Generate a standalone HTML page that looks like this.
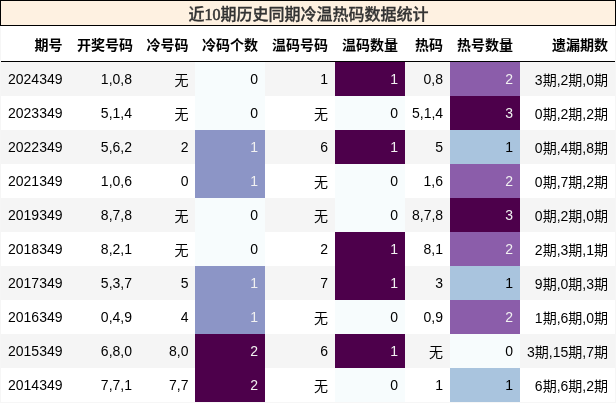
<!DOCTYPE html>
<html><head><meta charset="utf-8">
<style>
html,body{margin:0;padding:0;background:#f6f6f6;}
body{width:616px;height:403px;overflow:hidden;font-family:"Liberation Sans","Noto Sans CJK SC",sans-serif;}
table{background:#fff;border:none;border-collapse:collapse;border-spacing:0;color:#000;font-size:14px;table-layout:fixed;width:614px;margin-left:1px;}
#cap{box-sizing:border-box;width:616px;background:#fef1e1;border:1px solid #000;font-family:"Liberation Serif","Noto Sans CJK SC",serif;font-weight:500;font-size:16px;line-height:24px;padding:2px 0 0 1px;height:26px;text-align:center;color:#333;-webkit-text-stroke:0.3px #333;}
thead{border-bottom:1px solid #000;vertical-align:bottom;}
th,td{text-align:right;vertical-align:middle;padding:7px 7px;line-height:normal;border:none;white-space:nowrap;}
th{font-weight:bold;height:21px;}
tbody tr:nth-child(odd){background:#f5f5f5;}
.c0{background:#f7fcfd;color:#000;}
.c1{background:#8c95c6;color:#f1f1f1;}
.c2{background:#4d004b;color:#f1f1f1;}
.h1{background:#a9c4de;color:#000;}
.h2{background:#8b5daa;color:#f1f1f1;}
.n{-webkit-text-stroke:0.55px #333;}
tr>:nth-child(1){padding-right:7.5px;}
tr>:nth-child(3){padding-right:6.5px;}
</style></head><body>
<div id="cap">近<span class="n">10</span>期历史同期冷温热码数据统计</div>
<table>
<colgroup><col style="width:69px"><col style="width:69px"><col style="width:56px"><col style="width:70px"><col style="width:70px"><col style="width:70px"><col style="width:45px"><col style="width:70px"><col style="width:95px"></colgroup>
<thead><tr><th>期号</th><th>开奖号码</th><th>冷号码</th><th>冷码个数</th><th>温码号码</th><th>温码数量</th><th>热码</th><th>热号数量</th><th>遗漏期数</th></tr></thead>
<tbody>
<tr><td>2024349</td><td>1,0,8</td><td>无</td><td class="c0">0</td><td>1</td><td class="c2">1</td><td>0,8</td><td class="h2">2</td><td>3期,2期,0期</td></tr>
<tr><td>2023349</td><td>5,1,4</td><td>无</td><td class="c0">0</td><td>无</td><td class="c0">0</td><td>5,1,4</td><td class="c2">3</td><td>0期,2期,2期</td></tr>
<tr><td>2022349</td><td>5,6,2</td><td>2</td><td class="c1">1</td><td>6</td><td class="c2">1</td><td>5</td><td class="h1">1</td><td>0期,4期,8期</td></tr>
<tr><td>2021349</td><td>1,0,6</td><td>0</td><td class="c1">1</td><td>无</td><td class="c0">0</td><td>1,6</td><td class="h2">2</td><td>0期,7期,2期</td></tr>
<tr><td>2019349</td><td>8,7,8</td><td>无</td><td class="c0">0</td><td>无</td><td class="c0">0</td><td>8,7,8</td><td class="c2">3</td><td>0期,2期,0期</td></tr>
<tr><td>2018349</td><td>8,2,1</td><td>无</td><td class="c0">0</td><td>2</td><td class="c2">1</td><td>8,1</td><td class="h2">2</td><td>2期,3期,1期</td></tr>
<tr><td>2017349</td><td>5,3,7</td><td>5</td><td class="c1">1</td><td>7</td><td class="c2">1</td><td>3</td><td class="h1">1</td><td>9期,0期,3期</td></tr>
<tr><td>2016349</td><td>0,4,9</td><td>4</td><td class="c1">1</td><td>无</td><td class="c0">0</td><td>0,9</td><td class="h2">2</td><td>1期,6期,0期</td></tr>
<tr><td>2015349</td><td>6,8,0</td><td>8,0</td><td class="c2">2</td><td>6</td><td class="c2">1</td><td>无</td><td class="c0">0</td><td>3期,15期,7期</td></tr>
<tr><td>2014349</td><td>7,7,1</td><td>7,7</td><td class="c2">2</td><td>无</td><td class="c0">0</td><td>1</td><td class="h1">1</td><td>6期,6期,2期</td></tr>
</tbody></table>
</body></html>
